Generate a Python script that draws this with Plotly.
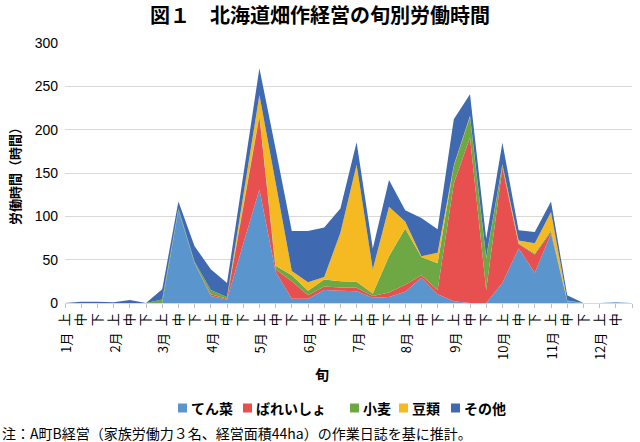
import plotly.graph_objects as go

# ---- data (hours per dekad) ----
months = ["1月", "2月", "3月", "4月", "5月", "6月",
          "7月", "8月", "9月", "10月", "11月", "12月"]
dekads = ["上", "中", "下"]

tensai = [0, 0, 0, 0, 0, 0, 0, 107, 46, 8, 4, 68, 131, 36, 5, 5, 15, 14,
          13.5, 6, 7, 13, 29, 10, 2, 0, 0, 23, 63, 35, 80, 2, 0, 0, 1, 0]
bareisho = [0, 0, 0, 0, 0, 0, 0, 0, 0, 2, 1, 42, 84, 3, 20, 4, 4, 4,
            4, 2, 5, 8, 3, 5, 136, 191, 15, 133, 5, 21, 2, 0, 0, 0, 0, 0]
komugi = [0, 0, 0, 0, 0, 0, 4, 2, 1.5, 5, 2, 2, 2, 4, 7, 5, 8, 7,
          7, 3, 42, 65, 21, 31, 20, 24, 37, 3, 1, 1, 2, 1, 0, 0, 0, 0]
mamerui = [0, 0, 0, 0, 0, 0, 0, 0, 0, 0, 0, 12, 23, 96, 5, 10, 3, 56,
           135, 28, 57, 8, 1, 12, 1, 1, 1, 1, 3, 12, 21, 0, 0, 0, 0, 0]
sonota = [0, 1.5, 1.5, 1, 3.5, 0, 12, 8, 18, 24, 16, 23, 31, 39, 46, 59, 57, 28,
          26, 24, 31, 13, 44, 27, 53, 25, 21, 25, 12, 13, 12, 6, 0, 0, 0, 0]

series_names = ["てん菜", "ばれいしょ", "小麦", "豆類", "その他"]
series_values = [tensai, bareisho, komugi, mamerui, sonota]
colors = ["#5B95CD", "#E8504F", "#6EA845", "#F5B922", "#3F69B1"]

tick_text = [d for m in months for d in dekads]
x = list(range(len(tick_text)))

JP = "Noto Sans CJK JP"

# layout geometry (pixels)
W, H = 640, 442
L, R, T, B = 65, 8, 43, 139
PW, PH = W - L - R, H - T - B


def px_x(p):
    return (p - L) / PW


def px_y(p):
    return (H - B - p) / PH


fig = go.Figure()
for name, vals, col in zip(series_names, series_values, colors):
    fig.add_trace(go.Scatter(
        x=x, y=vals, name=name, mode="lines", stackgroup="one",
        line=dict(width=0, color=col), fillcolor=col, showlegend=False,
        hoverinfo="skip"))

annotations = []
shapes = []
for k, m in enumerate(months):
    annotations.append(dict(
        x=k * len(dekads), y=0, xref="x", yref="paper", text=m,
        showarrow=False, textangle=-90, yanchor="top", xanchor="center",
        yshift=-28, font=dict(family=JP, size=13, color="#000")))
annotations.append(dict(
    x=px_x(322), y=px_y(374), xref="paper", yref="paper", text="旬", showarrow=False,
    yanchor="middle", xanchor="center",
    font=dict(family=JP, size=14, color="#000", weight="bold")))
annotations.append(dict(
    x=px_x(14), y=px_y(173), xref="paper", yref="paper", text="労働時間（時間）",
    showarrow=False, textangle=-90, xanchor="center", yanchor="middle",
    font=dict(family=JP, size=13, color="#000", weight="bold")))
annotations.append(dict(
    x=px_x(0), y=px_y(433), xref="paper", yref="paper", xanchor="left", yanchor="middle",
    text="注：A町B経営（家族労働力３名、経営面積44ha）の作業日誌を基に推計。",
    showarrow=False, font=dict(family=JP, size=14, color="#000")))

# manual legend (swatch + label)
legend_px = [178, 243, 350, 399, 451]
leg_y = 408
for name, col, lx in zip(series_names, colors, legend_px):
    shapes.append(dict(type="rect", xref="paper", yref="paper",
                       x0=px_x(lx), x1=px_x(lx + 9), y0=px_y(leg_y + 4.5), y1=px_y(leg_y - 4.5),
                       fillcolor=col, line=dict(width=0)))
    annotations.append(dict(
        x=px_x(lx + 11), y=px_y(leg_y), xref="paper", yref="paper",
        xanchor="left", yanchor="middle", text=name, showarrow=False,
        font=dict(family=JP, size=14, color="#000", weight="bold")))

fig.update_layout(
    width=W, height=H,
    margin=dict(l=L, r=R, t=T, b=B, autoexpand=False),
    paper_bgcolor="white", plot_bgcolor="white",
    title=dict(text="図１　北海道畑作経営の旬別労働時間", x=0.5, xanchor="center",
               y=1 - 16 / H, yanchor="middle", yref="container",
               font=dict(family=JP, size=20, color="#000", weight="bold")),
    xaxis=dict(range=[0, len(x) - 1], tickvals=x, ticktext=tick_text,
               tickangle=-90, ticks="outside", ticklen=4, tickcolor="#BFBFBF",
               showline=True, linecolor="#D9D9D9", linewidth=1,
               showgrid=False, zeroline=False, automargin=False,
               tickfont=dict(family=JP, size=13, color="#000")),
    yaxis=dict(range=[0, 300], dtick=50, showgrid=True, gridcolor="#D9D9D9",
               gridwidth=1, zeroline=False, showline=False, ticks="",
               ticklabelstandoff=6, automargin=False,
               tickfont=dict(family="Liberation Sans", size=14, color="#000")),
    annotations=annotations,
    shapes=shapes,
    showlegend=False,
)

fig.write_html("out.html", config={"displayModeBar": False},
               post_script="document.body.style.margin='0';")
